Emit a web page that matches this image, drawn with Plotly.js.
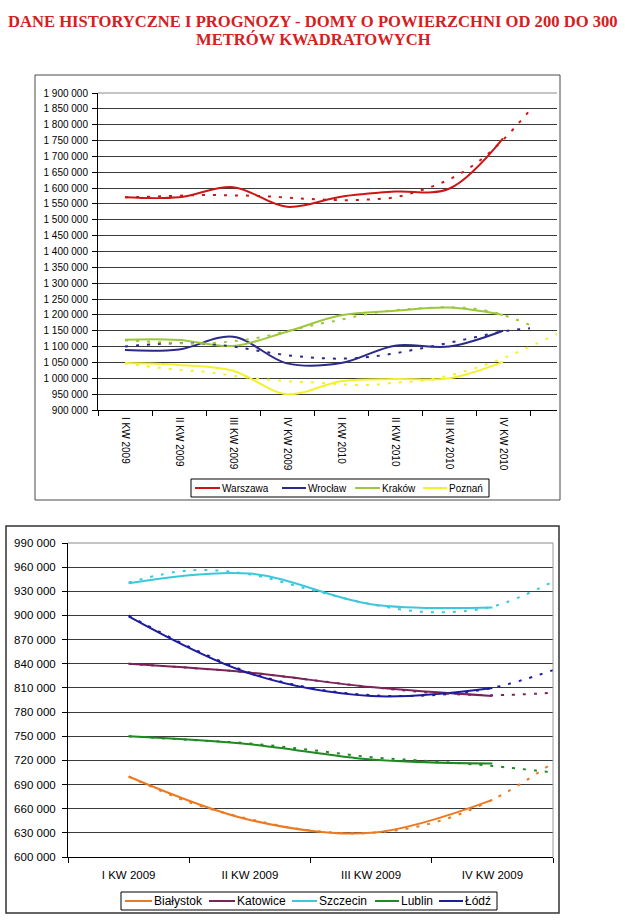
<!DOCTYPE html>
<html>
<head>
<meta charset="utf-8">
<script src="https://cdn.plot.ly/plotly-3.0.1.min.js"></script>
<style>
html,body{margin:0;padding:0;background:#fff;}
#chart{width:625px;height:920px;}
</style>
</head>
<body>
<div id="chart"></div>
<script>
// ================= DATA =================
// Top chart (large cities)
const topQuarters = ["I KW 2009","II KW 2009","III KW 2009","IV KW 2009","I KW 2010","II KW 2010","III KW 2010","IV KW 2010"];
const topNames = ["Warszawa","Wrocław","Kraków","Poznań"];
const warszawa = [1571000,1571000,1603000,1541000,1573000,1589000,1598000,1757000];
const wroclaw  = [1089000,1091000,1131000,1047000,1048000,1103000,1100000,1150000];
const krakow   = [1122000,1121000,1102000,1147000,1199000,1213000,1223000,1200000];
const poznan   = [1048000,1042000,1024000, 950000, 991000, 998000,1000000,1052000];
// trend lines (read every half quarter, from I KW 2009 on; forecast beyond the last quarter)
const warszawaTrend = [1571000,1573000,1576000,1578000,1577000,1575000,1570000,1565000,1562000,1564000,1571000,1594000,1627000,1678000,1752000,1846000];
const wroclawTrend  = [1100000,1107000,1111000,1109000,1100000,1086000,1073000,1065000,1062000,1067000,1079000,1095000,1112000,1130000,1148000,1158000];
const krakowTrend   = [1120000,1115000,1111000,1110000,1117000,1129000,1149000,1168000,1185000,1203000,1215000,1221000,1224000,1219000,1200000,1168000];
const poznanTrend   = [1047000,1036000,1027000,1020000,1008000, 998000, 991000, 987000, 981000, 979000, 986000, 993000,1009000,1033000,1063000,1100000,1140000];

// Bottom chart (other cities)
const botQuarters = ["I KW 2009","II KW 2009","III KW 2009","IV KW 2009"];
const botNames = ["Białystok","Katowice","Szczecin","Lublin","Łódź"];
const bialystok = [700000,646000,630000,671000];
const katowice  = [840000,829000,811000,800000];
const szczecin  = [940000,952000,914000,910000];
const lublin    = [750000,740000,721000,716000];
const lodz      = [899000,828000,800000,810000];
const bialystokTrend = [700000,668000,647000,633000,630000,642000,671000,717000];
const katowiceTrend  = [840000,835000,829000,820000,811000,804000,801000,804000];
const szczecinTrend  = [941000,956000,951000,932000,914000,904000,911000,942000];
const lublinTrend    = [750000,745500,741000,733000,724000,719000,713000,705000];
const lodzTrend      = [900000,861000,829000,810000,801000,801000,810000,832000];

// ================= STYLE / LAYOUT =================
const W = 625, H = 920;
const px = x => x / W;
const py = y => 1 - y / H;
const FONT = "Liberation Sans, Arial, sans-serif";

const topColors = ["#cc1616","#2a2a8a","#9cc83a","#f2f22a"];
const botColors = ["#ec7a22","#7a2458","#3cc8dc","#1f8a22","#1c1ca0"];

const topSeries = [warszawa, wroclaw, krakow, poznan];
const topTrends = [warszawaTrend, wroclawTrend, krakowTrend, poznanTrend];
const botSeries = [bialystok, katowice, szczecin, lublin, lodz];
const botTrends = [bialystokTrend, katowiceTrend, szczecinTrend, lublinTrend, lodzTrend];

const quarterPos = arr => arr.map((_, i) => i + 1);
const halfPos = arr => arr.map((_, i) => 1 + i / 2);
const boundaries = cats => cats.map((_, i) => i + 0.5).concat([cats.length + 0.5]);

const traces = [];
function addSeries(series, trends, names, colors, xa, ya) {
  series.forEach((vals, i) => {
    traces.push({
      x: quarterPos(vals), y: vals, name: names[i], type: 'scatter', mode: 'lines',
      line: {color: colors[i], width: 2, shape: 'spline', smoothing: 1},
      xaxis: xa, yaxis: ya, showlegend: false, hoverinfo: 'skip'
    });
  });
  trends.forEach((vals, i) => {
    traces.push({
      x: halfPos(vals), y: vals, name: names[i] + ' (trend)', type: 'scatter', mode: 'lines',
      line: {color: colors[i], width: 2, dash: '3px,8px', shape: 'spline', smoothing: 1},
      xaxis: xa, yaxis: ya, showlegend: false, hoverinfo: 'skip'
    });
  });
}
addSeries(topSeries, topTrends, topNames, topColors, 'x', 'y');
addSeries(botSeries, botTrends, botNames, botColors, 'x2', 'y2');

const TOP = {l: 98, r: 557, t: 93, b: 410};
const BOT = {l: 68, r: 553, t: 543, b: 857};

const shapes = [];
const annotations = [];

// outer frames
shapes.push({type:'rect', xref:'paper', yref:'paper', x0:px(35), x1:px(560), y0:py(75), y1:py(500), line:{color:'#4a4a4a', width:1}});
shapes.push({type:'rect', xref:'paper', yref:'paper', x0:px(6), x1:px(559), y0:py(526), y1:py(913), line:{color:'#333', width:1.5}});
// plot-area edges (grey)
shapes.push({type:'line', xref:'paper', yref:'paper', x0:px(TOP.l), x1:px(TOP.r), y0:py(TOP.t), y1:py(TOP.t), line:{color:'#8a8a8a', width:1}, layer:'above'});
shapes.push({type:'line', xref:'paper', yref:'paper', x0:px(BOT.l), x1:px(BOT.r), y0:py(BOT.t), y1:py(BOT.t), line:{color:'#8a8a8a', width:1}, layer:'above'});
shapes.push({type:'line', xref:'paper', yref:'paper', x0:px(BOT.r), x1:px(BOT.r), y0:py(BOT.t), y1:py(BOT.b), line:{color:'#9a9a9a', width:1}, layer:'above'});

// legends (drawn manually to match the original layout)
function legend(box, names, colors, entries, fontSize) {
  shapes.push({type:'rect', xref:'paper', yref:'paper', x0:px(box[0]), x1:px(box[2]), y0:py(box[1]), y1:py(box[3]), line:{color:'#000', width:1}, fillcolor:'#fff'});
  const yc = (box[1] + box[3]) / 2;
  names.forEach((n, i) => {
    const e = entries[i];
    shapes.push({type:'line', xref:'paper', yref:'paper', x0:px(e[0]), x1:px(e[1]), y0:py(yc), y1:py(yc), line:{color:colors[i], width:2}});
    annotations.push({text:n, xref:'paper', yref:'paper', x:px(e[1] + 1), y:py(yc), xanchor:'left', yanchor:'middle', showarrow:false, font:{family:FONT, size:fontSize, color:'#000'}, borderpad:0});
  });
}
legend([191, 479, 489, 497], topNames, topColors, [[195,220],[282,306],[355,380],[423,447]], 10);
legend([121, 892, 497, 910], botNames, botColors, [[125,152],[209,235],[292,317],[375,399],[439,463]], 12);

// titles
annotations.push({text:'DANE HISTORYCZNE I PROGNOZY - DOMY O POWIERZCHNI OD 200 DO 300', xref:'paper', yref:'paper', x:px(313), y:py(22), xanchor:'center', yanchor:'middle', showarrow:false, font:{family:'Liberation Serif, Times New Roman, serif', size:16.6, color:'#d42020', weight:'bold'}});
annotations.push({text:'METRÓW KWADRATOWYCH', xref:'paper', yref:'paper', x:px(313), y:py(39.5), xanchor:'center', yanchor:'middle', showarrow:false, font:{family:'Liberation Serif, Times New Roman, serif', size:16.6, color:'#d42020', weight:'bold'}});

const gridColor = '#3a3a3a';

const layout = {
  width: W, height: H,
  margin: {l:0, r:0, t:0, b:0, pad:0},
  paper_bgcolor: '#fff', plot_bgcolor: '#fff',
  separators: ', ',
  showlegend: false,
  font: {family: FONT, color: '#000'},
  xaxis: {
    domain: [px(TOP.l), px(TOP.r)], range: [0.5, 9.0], anchor: 'y', automargin: false,
    tickmode: 'array', tickvals: quarterPos(topQuarters), ticktext: topQuarters, tickangle: 90,
    ticks: '', showgrid: false, zeroline: false, showline: true, linecolor: '#000', linewidth: 1,
    tickfont: {family: FONT, size: 10, color: '#000'}, ticklabelstandoff: 4,
    minor: {tickmode: 'array', tickvals: boundaries(topQuarters), ticks: 'outside', ticklen: 5, tickcolor: '#000', tickwidth: 1, showgrid: false},
    fixedrange: true
  },
  yaxis: {
    domain: [py(TOP.b), py(TOP.t)], range: [900000, 1900000], anchor: 'x', automargin: false,
    tickmode: 'linear', tick0: 900000, dtick: 50000, tickformat: ',d',
    ticks: 'outside', ticklen: 5, tickcolor: '#000', tickwidth: 1,
    showline: true, linecolor: '#000', linewidth: 1,
    showgrid: true, gridcolor: gridColor, gridwidth: 1, zeroline: false,
    tickfont: {family: FONT, size: 10, color: '#000'}, ticklabelstandoff: 2,
    fixedrange: true
  },
  xaxis2: {
    domain: [px(BOT.l), px(BOT.r)], range: [0.5, 4.5], anchor: 'y2', automargin: false,
    tickmode: 'array', tickvals: quarterPos(botQuarters), ticktext: botQuarters,
    ticks: '', showgrid: false, zeroline: false, showline: true, linecolor: '#000', linewidth: 1,
    tickfont: {family: FONT, size: 11.5, color: '#000'}, ticklabelstandoff: 7,
    minor: {tickmode: 'array', tickvals: boundaries(botQuarters), ticks: 'outside', ticklen: 5, tickcolor: '#000', tickwidth: 1, showgrid: false},
    fixedrange: true
  },
  yaxis2: {
    domain: [py(BOT.b), py(BOT.t)], range: [600000, 990000], anchor: 'x2', automargin: false,
    tickmode: 'linear', tick0: 600000, dtick: 30000, tickformat: ',d',
    ticks: 'outside', ticklen: 5, tickcolor: '#000', tickwidth: 1,
    showline: true, linecolor: '#000', linewidth: 1,
    showgrid: true, gridcolor: gridColor, gridwidth: 1, zeroline: false,
    tickfont: {family: FONT, size: 11.5, color: '#000'}, ticklabelstandoff: 4,
    fixedrange: true
  },
  shapes: shapes,
  annotations: annotations
};

Plotly.newPlot('chart', traces, layout, {staticPlot: true, displayModeBar: false});
</script>
</body>
</html>
